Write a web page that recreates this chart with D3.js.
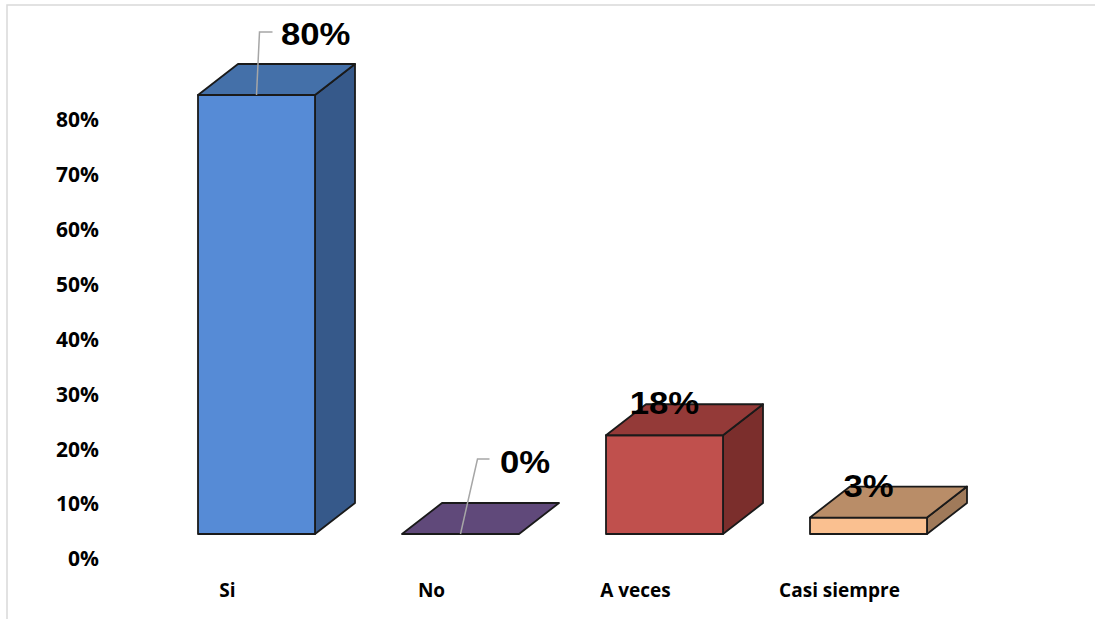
<!DOCTYPE html>
<meta charset="utf-8">
<head>
  <title>Respuestas</title>
</head>

<style>
body {
  margin: 0;
  background: #fff;
}
text {
  font-family: "Open Sans", sans-serif;
  font-weight: 700;
  fill: #000;
}
</style>

<body>
  <svg width="1095" height="619"></svg>

  <script src="https://cdnjs.cloudflare.com/ajax/libs/d3/7.8.5/d3.min.js"></script>

  <script>
var categories = ['Si', 'No', 'A veces', 'Casi siempre'];
var values = [0.80, 0.00, 0.18, 0.03];
var valueLabels = ['80%', '0%', '18%', '3%'];
var tickValues = [0, 0.1, 0.2, 0.3, 0.4, 0.5, 0.6, 0.7, 0.8];

// face colours: front, top, side
var frontColors = ['#568bd6', '#60497a', '#c0504d', '#fac090'];
var topColors = ['#4470a9', '#60497a', '#943a38', '#b98d68'];
var sideColors = ['#36598a', '#4d3a62', '#7b2e2c', '#a07a5a'];

var svg = d3.select('svg');

// frame
svg.append('path')
  .attr('d', 'M7,619V5H1095')
  .attr('fill', 'none')
  .attr('stroke', '#d9d9d9')
  .attr('stroke-width', 1.5);

var x = d3.scaleBand()
  .domain(categories)
  .range([198, 927])
  .paddingInner(87 / 204)
  .paddingOuter(0);

var y = d3.scaleLinear()
  .domain([0, 0.8])
  .range([534, 95]);

// depth of the 3d boxes
var dx = 40, dy = -31;

// y axis labels (sit slightly below the front of the floor)
svg.append('g')
  .selectAll('text')
  .data(tickValues)
  .join('text')
  .attr('x', 99)
  .attr('y', function(d) { return y(d) + 25; })
  .attr('dy', '0.35em')
  .attr('text-anchor', 'end')
  .style('font-size', '21px')
  .text(d3.format('.0%'));

// category labels
svg.append('g')
  .selectAll('text')
  .data(categories)
  .join('text')
  .attr('x', function(d) { return x(d) + x.bandwidth() / 2 - 29; })
  .attr('y', 590)
  .attr('dy', '0.35em')
  .attr('text-anchor', 'middle')
  .style('font-size', '19px')
  .text(function(d) { return d; });

var bars = svg.append('g')
  .selectAll('g')
  .data(categories)
  .join('g')
  .attr('stroke', '#1a1a1a')
  .attr('stroke-width', 1.8)
  .attr('stroke-linejoin', 'round');

bars.each(function(c, i) {
  var g = d3.select(this);
  var x0 = x(c), x1 = x(c) + x.bandwidth();
  var yt = y(values[i]), yb = y(0);

  if (values[i] > 0) {
    g.append('path')
      .attr('fill', sideColors[i])
      .attr('d', d3.line()([[x1, yt], [x1 + dx, yt + dy], [x1 + dx, yb + dy], [x1, yb]]) + 'Z');
    g.append('rect')
      .attr('x', x0).attr('y', yt)
      .attr('width', x1 - x0).attr('height', yb - yt)
      .attr('fill', frontColors[i]);
  }
  g.append('path')
    .attr('fill', topColors[i])
    .attr('d', d3.line()([[x0, yt], [x0 + dx, yt + dy], [x1 + dx, yt + dy], [x1, yt]]) + 'Z');
});

// data labels; the first two were dragged away with a leader line
var labelMoves = {
  'Si': {tx: 281, ty: 45, line: [[0, 0], [3, -63], [16, -63]]},
  'No': {tx: 500, ty: 473, line: [[0, 0], [17, -75], [29, -75]]}
};

var labels = svg.append('g');
categories.forEach(function(c, i) {
  var cx = x(c) + x.bandwidth() / 2;
  var yt = y(values[i]);
  var m = labelMoves[c];
  if (m) {
    labels.append('path')
      .attr('fill', 'none')
      .attr('stroke', '#a6a6a6')
      .attr('stroke-width', 1.5)
      .attr('d', d3.line()(m.line.map(function(p) { return [cx + p[0], yt + p[1]]; })));
    labels.append('text')
      .attr('transform', 'translate(' + m.tx + ',' + m.ty + ') scale(1.12,1)')
      .attr('text-anchor', 'start')
      .style('font-family', '"Liberation Sans", Arial, sans-serif')
      .style('font-size', '31px')
      .text(valueLabels[i]);
  } else {
    labels.append('text')
      .attr('transform', 'translate(' + cx + ',' + (yt - 21) + ') scale(1.12,1)')
      .attr('text-anchor', 'middle')
      .style('font-family', '"Liberation Sans", Arial, sans-serif')
      .style('font-size', '31px')
      .text(valueLabels[i]);
  }
});
  </script>
</body>
</html>
